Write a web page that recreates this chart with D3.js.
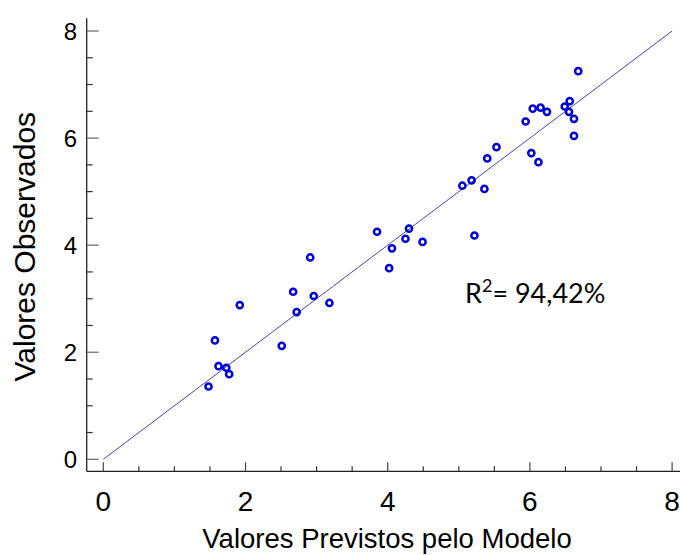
<!DOCTYPE html>
<html lang="pt">
<head>
  <meta charset="UTF-8">
  <title>Valores Observados x Previstos</title>
  <script src="https://d3js.org/d3.v7.min.js"></script>
  <style>
    body { margin: 0; background: #fff; }
    .axis-title { font-family: "Liberation Sans", Arial, sans-serif; fill: #000; }
    .tick-label { font-family: "Liberation Sans", Arial, sans-serif; fill: #000; }
  </style>
</head>
<body>
  <div id="chart"></div>

  <script>
    // ------------------------ Data ------------------------

    const previstos = [1.48, 1.57, 1.62, 1.73, 1.77, 1.92, 2.51, 2.67, 2.72, 2.91, 2.96, 3.18,
                       3.85, 4.02, 4.06, 4.25, 4.30, 4.49, 5.05, 5.18, 5.22, 5.36, 5.40, 5.53,
                       5.94, 6.02, 6.04, 6.12, 6.15, 6.24, 6.49, 6.56, 6.55, 6.62, 6.62, 6.68];
    const observados = [1.36, 2.22, 1.74, 1.71, 1.59, 2.88, 2.12, 3.13, 2.75, 3.77, 3.05, 2.92,
                        4.25, 3.57, 3.94, 4.12, 4.31, 4.06, 5.11, 5.21, 4.18, 5.05, 5.62, 5.83,
                        6.31, 5.72, 6.55, 5.55, 6.57, 6.49, 6.59, 6.69, 6.49, 6.36, 6.04, 7.25];
    const majorTicks = [0, 2, 4, 6, 8];
    const minorTicks = d3.range(0, 8.01, 0.5).filter(d => d % 2 !== 0);
    const fitLine = [[0, 0], [8, 8]];
    const r2Text = "94,42%";

    const points = previstos.map((p, i) => ({ x: p, y: observados[i] }));

    // ------------------------ Setup ------------------------

    const width = 680, height = 555;
    const svg = d3.select("#chart").append("svg")
      .attr("width", width)
      .attr("height", height);

    const x = d3.scaleLinear().domain([0, 8]).range([103.3, 672.1]);
    const y = d3.scaleLinear().domain([0, 8]).range([459.3, 31]);

    const axisX = 86.7;   // left axis line
    const axisY = 471.3;  // bottom axis line

    // ------------------------ Axes ------------------------

    svg.append("line")
      .attr("x1", axisX).attr("x2", axisX)
      .attr("y1", y(8.24)).attr("y2", axisY)
      .attr("stroke", "#222").attr("stroke-width", 1.3);

    svg.append("line")
      .attr("x1", axisX).attr("x2", width)
      .attr("y1", axisY).attr("y2", axisY)
      .attr("stroke", "#222").attr("stroke-width", 1.3);

    // y ticks (inward)
    svg.selectAll(".ytick-major").data(majorTicks).enter().append("line")
      .attr("x1", axisX).attr("x2", axisX + 12)
      .attr("y1", d => y(d)).attr("y2", d => y(d))
      .attr("stroke", "#666").attr("stroke-width", 1.2);
    svg.selectAll(".ytick-minor").data(minorTicks).enter().append("line")
      .attr("x1", axisX).attr("x2", axisX + 6)
      .attr("y1", d => y(d)).attr("y2", d => y(d))
      .attr("stroke", "#333").attr("stroke-width", 1.2);

    // x ticks (inward)
    svg.selectAll(".xtick-major").data(majorTicks).enter().append("line")
      .attr("x1", d => x(d)).attr("x2", d => x(d))
      .attr("y1", axisY).attr("y2", axisY - 9)
      .attr("stroke", "#444").attr("stroke-width", 1.2);
    svg.selectAll(".xtick-minor").data(minorTicks).enter().append("line")
      .attr("x1", d => x(d)).attr("x2", d => x(d))
      .attr("y1", axisY).attr("y2", axisY - 5)
      .attr("stroke", "#333").attr("stroke-width", 1.2);

    // tick labels
    svg.selectAll(".ylab").data(majorTicks).enter().append("text")
      .attr("class", "tick-label")
      .attr("x", 77)
      .attr("y", d => y(d))
      .attr("dy", "0.36em")
      .attr("text-anchor", "end")
      .style("font-size", "24px")
      .text(d => d);

    svg.selectAll(".xlab").data(majorTicks).enter().append("text")
      .attr("class", "tick-label")
      .attr("x", d => x(d))
      .attr("y", 510.5)
      .attr("text-anchor", "middle")
      .style("font-size", "28px")
      .text(d => d);

    // axis titles
    svg.append("text")
      .attr("class", "axis-title")
      .attr("x", 387)
      .attr("y", 547.5)
      .attr("text-anchor", "middle")
      .style("font-size", "27.5px")
      .text("Valores Previstos pelo Modelo");

    svg.append("text")
      .attr("class", "axis-title")
      .attr("transform", "translate(35,246.7) rotate(-90)")
      .attr("text-anchor", "middle")
      .style("font-size", "30px")
      .text("Valores Observados");

    // ------------------------ Marks ------------------------

    svg.append("line")
      .attr("x1", x(fitLine[0][0])).attr("y1", y(fitLine[0][1]))
      .attr("x2", x(fitLine[1][0])).attr("y2", y(fitLine[1][1]))
      .attr("stroke", "#4646b4").attr("stroke-width", 1);

    svg.selectAll(".pt").data(points).enter().append("circle")
      .attr("cx", d => x(d.x))
      .attr("cy", d => y(d.y))
      .attr("r", 3.1)
      .attr("fill", "none")
      .attr("stroke", "#0000dd")
      .attr("stroke-width", 2.5);

    // R² annotation
    const r2 = svg.append("text")
      .attr("x", 465)
      .attr("y", 302.7)
      .style("font-family", "Lato, 'Open Sans', sans-serif")
      .style("font-size", "27px")
      .attr("fill", "#000");
    r2.append("tspan").text("R");
    r2.append("tspan").attr("dy", -11).style("font-size", "18px").text("2");
    r2.append("tspan").attr("dy", 11).text("= " + r2Text);
  </script>
</body>
</html>
